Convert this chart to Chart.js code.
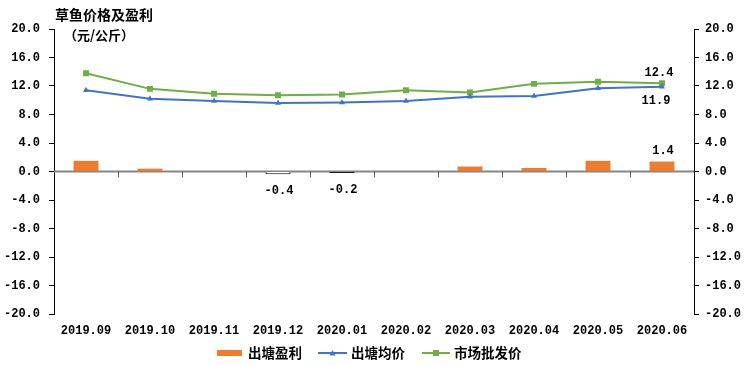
<!DOCTYPE html>
<html><head><meta charset="utf-8">
<script src="https://cdn.jsdelivr.net/npm/chart.js@4"></script>
<style>html,body{margin:0;padding:0;background:#fff}canvas{display:block}</style>
</head><body>
<canvas id="c" width="753" height="366"></canvas>
<script>
const categories = ['2019.09','2019.10','2019.11','2019.12','2020.01','2020.02','2020.03','2020.04','2020.05','2020.06'];
const profit = [1.5, 0.4, 0, -0.4, -0.2, 0, 0.7, 0.5, 1.5, 1.4];
const pondPrice = [11.4, 10.2, 9.9, 9.6, 9.7, 9.9, 10.5, 10.6, 11.7, 11.9];
const marketPrice = [13.8, 11.6, 10.9, 10.7, 10.8, 11.4, 11.1, 12.3, 12.6, 12.4];
const yTickMin = -20, yTickMax = 20, yTickStep = 4;
const seriesNames = ['出塘盈利', '出塘均价', '市场批发价'];
const titleLines = ['草鱼价格及盈利', '（元/公斤）'];
const profitLabelIdx = [3, 4, 9];
const lineLabelIdx = [9];

const ORANGE = '#ED7D31', BLUE = '#4472C4', GREEN = '#70AD47';
const NUM_FONT = 'bold 12px "Liberation Mono", monospace';
const CJK = '"Noto Sans CJK SC", sans-serif';

const barFill = profit.map((v, i) => i === 3 ? '#ffffff' : (i === 4 ? '#111111' : ORANGE));
const barBorder = profit.map((v, i) => i === 3 ? '#000000' : (i === 4 ? '#111111' : ORANGE));
const barBorderW = profit.map((v, i) => i === 3 ? 1 : 0);

const decor = {
  id: 'decor',
  beforeDatasetsDraw(chart) {
    const { ctx, chartArea: a, scales: { x, y } } = chart;
    const y0 = y.getPixelForValue(0);
    ctx.save();
    ctx.strokeStyle = '#868686'; ctx.lineWidth = 2;
    ctx.beginPath(); ctx.moveTo(a.left, y0); ctx.lineTo(a.right, y0); ctx.stroke();
    ctx.lineWidth = 1; ctx.strokeStyle = '#595959';
    ctx.beginPath();
    for (let i = 1; i < categories.length; i++) {
      const xx = Math.round((x.getPixelForValue(i - 1) + x.getPixelForValue(i)) / 2) + 0.5;
      ctx.moveTo(xx, y0); ctx.lineTo(xx, y0 + 6);
    }
    ctx.stroke();
    ctx.restore();
  },
  afterDatasetsDraw(chart) {
    const { ctx } = chart;
    ctx.save();
    ctx.font = NUM_FONT; ctx.fillStyle = '#000'; ctx.textAlign = 'center'; ctx.textBaseline = 'middle';
    const bars = chart.getDatasetMeta(0).data;
    profitLabelIdx.forEach(i => {
      const b = bars[i]; const v = profit[i];
      const yy = v < 0 ? Math.max(b.y, b.base) + 17 : Math.min(b.y, b.base) - 11;
      ctx.fillText(v.toFixed(1), b.x + 1, yy);
    });
    const pm = chart.getDatasetMeta(1).data, mm = chart.getDatasetMeta(2).data;
    lineLabelIdx.forEach(i => {
      ctx.fillText(marketPrice[i].toFixed(1), mm[i].x - 3, mm[i].y - 10);
      ctx.fillText(pondPrice[i].toFixed(1), pm[i].x - 6, pm[i].y + 14);
    });
    ctx.restore();
  },
  afterDraw(chart) {
    const { ctx } = chart;
    ctx.save();
    ctx.fillStyle = '#000'; ctx.textBaseline = 'middle'; ctx.textAlign = 'left';
    ctx.font = 'bold 14px ' + CJK;
    ctx.fillText(titleLines[0], 55, 15);
    ctx.font = 'bold 13px ' + CJK;
    ctx.fillText(titleLines[1], 64, 35);
    // legend
    const ly = 353;
    let lx = 217;
    ctx.font = 'bold 13.5px ' + CJK;
    // item 1: bar
    ctx.fillStyle = ORANGE; ctx.fillRect(lx, ly - 3, 25, 6);
    lx += 25 + 6;
    ctx.fillStyle = '#000'; ctx.fillText(seriesNames[0], lx, ly);
    lx += ctx.measureText(seriesNames[0]).width + 16;
    // item 2: blue line w/ triangle
    ctx.strokeStyle = BLUE; ctx.lineWidth = 2;
    ctx.beginPath(); ctx.moveTo(lx, ly); ctx.lineTo(lx + 29, ly); ctx.stroke();
    ctx.fillStyle = BLUE; ctx.beginPath();
    ctx.moveTo(lx + 14.5, ly - 3); ctx.lineTo(lx + 17.5, ly + 2.5); ctx.lineTo(lx + 11.5, ly + 2.5); ctx.closePath(); ctx.fill();
    lx += 29 + 4;
    ctx.fillStyle = '#000'; ctx.fillText(seriesNames[1], lx, ly);
    lx += ctx.measureText(seriesNames[1]).width + 17;
    // item 3: green line w/ square
    ctx.strokeStyle = GREEN;
    ctx.beginPath(); ctx.moveTo(lx, ly); ctx.lineTo(lx + 28, ly); ctx.stroke();
    ctx.fillStyle = GREEN; ctx.fillRect(lx + 11, ly - 3, 6, 6);
    lx += 28 + 4;
    ctx.fillStyle = '#000'; ctx.fillText(seriesNames[2], lx, ly);
    ctx.restore();
  }
};

const yAxisCommon = (pos) => ({
  type: 'linear', position: pos, min: yTickMin, max: yTickMax,
  border: { display: true, color: '#000', width: 1 },
  grid: { drawOnChartArea: false, drawTicks: true, tickLength: 5, color: '#000' },
  ticks: { stepSize: yTickStep, color: '#000', font: { family: '"Liberation Mono", monospace', size: 12, weight: 'bold' },
           padding: pos === 'left' ? 9 : 6, callback: v => Number(v).toFixed(1) }
});

new Chart(document.getElementById('c'), {
  data: {
    labels: categories,
    datasets: [
      { type: 'bar', label: seriesNames[0], data: profit, backgroundColor: barFill, borderColor: barBorder,
        borderWidth: barBorderW, barPercentage: 0.39, categoryPercentage: 1, yAxisID: 'y' },
      { type: 'line', label: seriesNames[1], data: pondPrice, borderColor: BLUE, backgroundColor: BLUE,
        borderWidth: 2, pointStyle: 'triangle', pointRadius: 3.5, pointBorderWidth: 0, tension: 0, yAxisID: 'y' },
      { type: 'line', label: seriesNames[2], data: marketPrice, borderColor: GREEN, backgroundColor: GREEN,
        borderWidth: 2, pointStyle: 'rect', pointRadius: 4.2, pointBorderWidth: 0, tension: 0, yAxisID: 'y' }
    ]
  },
  options: {
    responsive: false, animation: false, devicePixelRatio: 1,
    layout: { padding: { top: 29, left: 0, right: 0, bottom: 0 } },
    plugins: { legend: { display: false }, tooltip: { enabled: false } },
    scales: {
      x: {
        type: 'category', offset: true,
        border: { display: false }, grid: { display: false, drawTicks: false },
        ticks: { color: '#000', font: { family: '"Liberation Mono", monospace', size: 12, weight: 'bold' }, padding: 10, maxRotation: 0, autoSkip: false },
        afterFit: s => { s.height = 52; }
      },
      y: Object.assign(yAxisCommon('left'), { afterFit: s => { s.width = 54; } }),
      y1: Object.assign(yAxisCommon('right'), { afterFit: s => { s.width = 59; } })
    }
  },
  plugins: [decor]
});
</script>
</body></html>
